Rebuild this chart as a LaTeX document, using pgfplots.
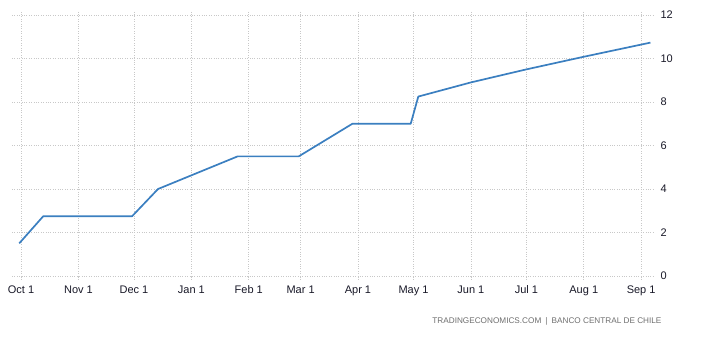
\documentclass[border=0pt]{standalone}
\usepackage{pgfplots}
\pgfplotsset{compat=1.18}
\usepackage{fontspec}
\setmainfont{Liberation Sans}
\definecolor{serie}{RGB}{59,127,192}
\definecolor{gridc}{RGB}{200,200,200}
\definecolor{src}{RGB}{110,110,110}
\definecolor{lbl}{RGB}{25,25,40}
\begin{document}
\begin{tikzpicture}[x=1pt,y=1pt]
\useasboundingbox (0,0) rectangle (708,339);
\begin{axis}[
  at={(12pt,63pt)}, anchor=south west,
  width=641pt, height=261pt, scale only axis,
  xmin=-4.9, xmax=341.4, ymin=0, ymax=12,
  axis line style={draw=none},
  xtick={0,31,61,92,123,151,182,212,243,273,304,335},
  xticklabels={Oct 1,Nov 1,Dec 1,Jan 1,Feb 1,Mar 1,Apr 1,May 1,Jun 1,Jul 1,Aug 1,Sep 1},
  ytick={0,2,4,6,8,10,12},
  yticklabel pos=right,
  grid=major,
  major grid style={gridc, dotted, line width=0.7pt},
  xtick style={gridc, dotted, line width=0.7pt},
  ytick style={draw=none},
  major tick length=3pt,
  tick align=outside,
  /pgf/number format/assume math mode=true,
  ticklabel style={font=\fontsize{11}{13}\selectfont, text=lbl},
  xticklabel style={anchor=north, text height=8pt, text depth=2pt, yshift=-3pt},
  yticklabel style={anchor=west, xshift=1pt},
  clip=false,
]
\addplot[serie, line width=1.7pt, line join=round] coordinates {
  (-1,1.5) (12,2.75) (60,2.75) (74,4.0) (117,5.5) (150,5.5)
  (179,7.0) (210.5,7.0) (214.6,8.25) (243,8.9) (273,9.5)
  (304,10.08) (340,10.73)
};
\end{axis}
\node[anchor=east, font=\fontsize{8.2}{9}\selectfont, text=src] at (665,18) {TRADINGECONOMICS.COM\,\,\,|\,\,\,BANCO CENTRAL DE CHILE};
\end{tikzpicture}
\end{document}
